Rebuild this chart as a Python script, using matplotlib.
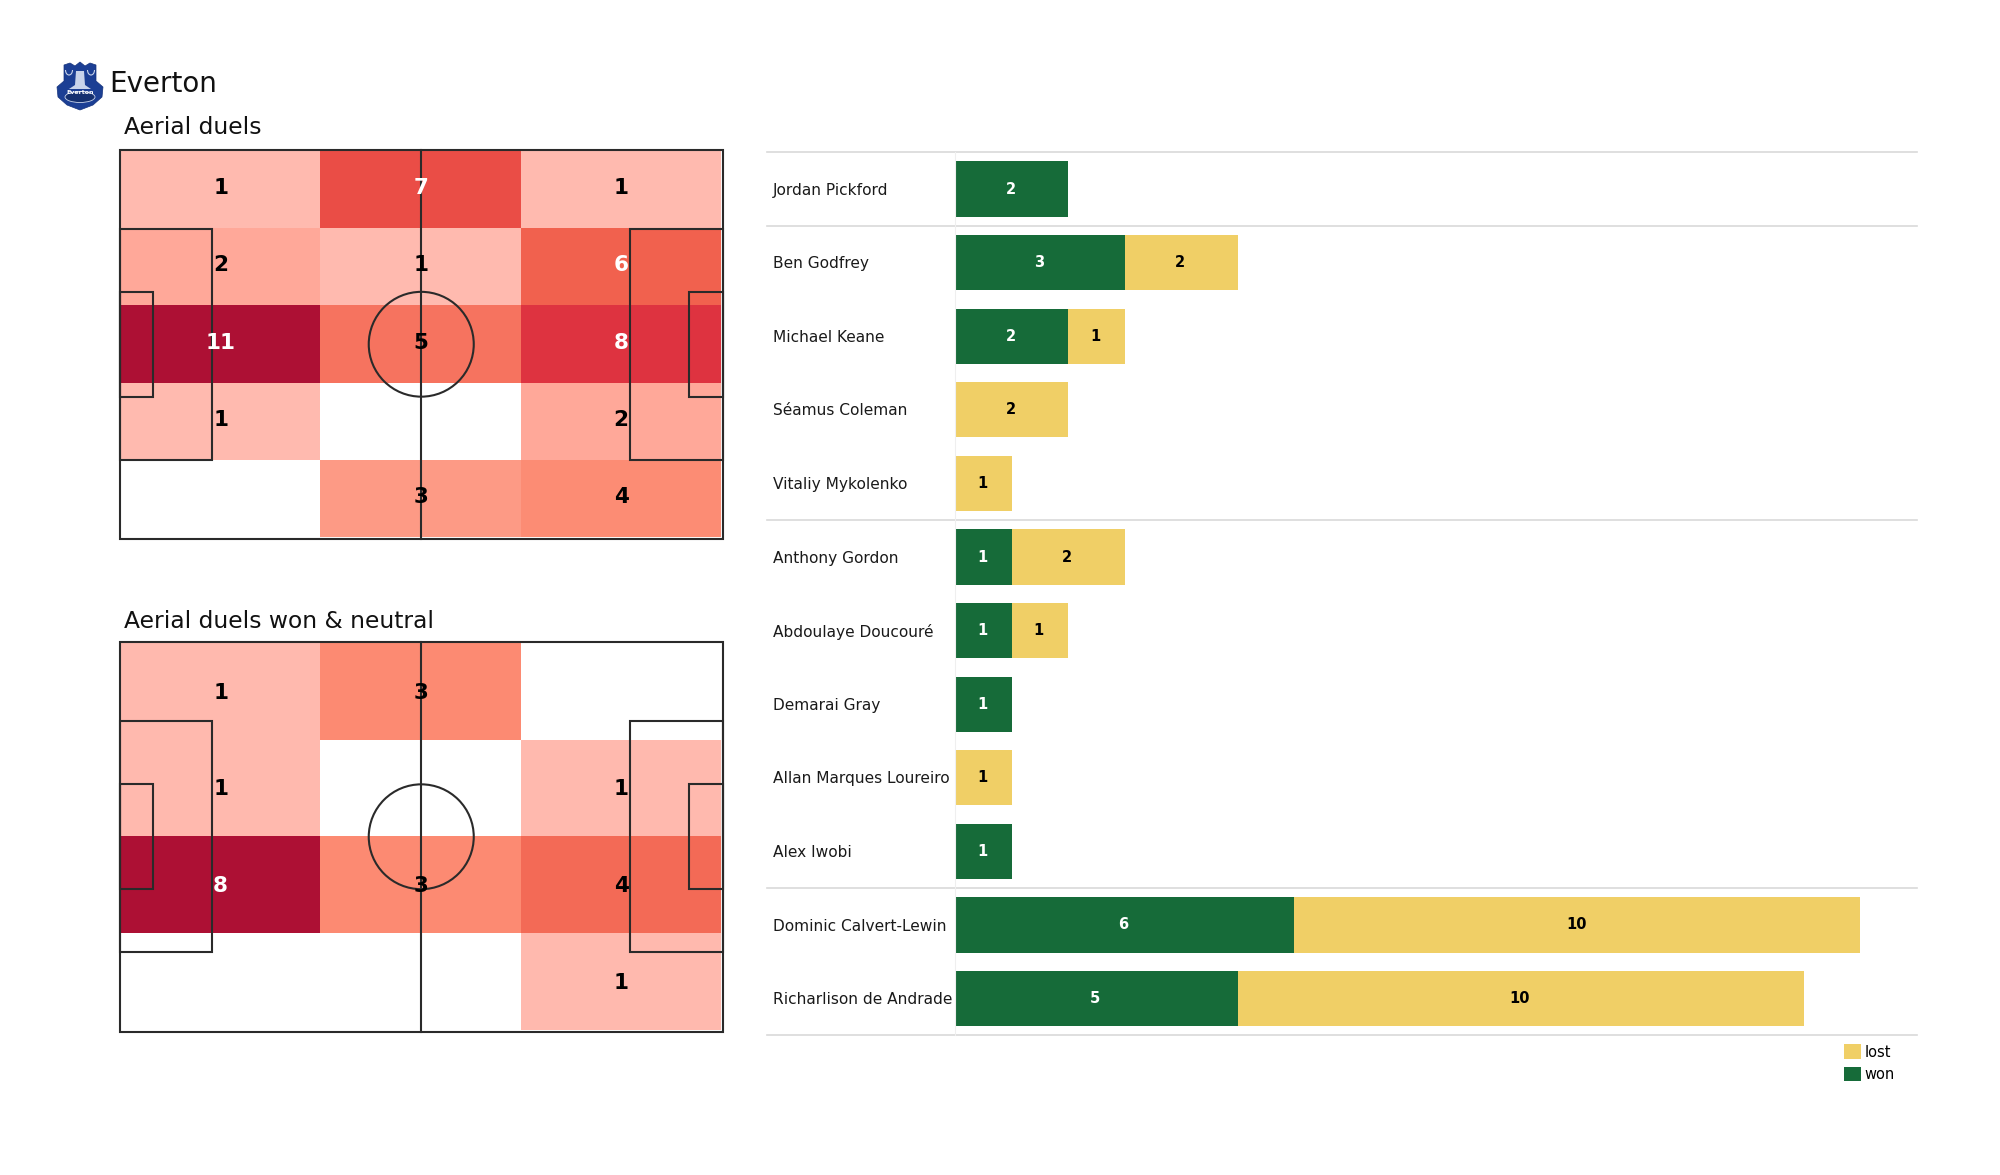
#!/usr/bin/env python3
import numpy as np
import matplotlib
matplotlib.use("Agg")
import matplotlib.pyplot as plt
from matplotlib.colors import LinearSegmentedColormap
from matplotlib.patches import Arc, Circle, Ellipse, Polygon, Rectangle

W, H = 2000, 1175

# heatmap counts, top row first
all_duels = [[1, 7, 1],
             [2, 1, 6],
             [11, 5, 8],
             [1, 0, 2],
             [0, 3, 4]]
won_duels = [[1, 3, 0],
             [1, 0, 1],
             [8, 3, 4],
             [0, 0, 1]]

players = ["Jordan Pickford", "Ben Godfrey", "Michael Keane", "Séamus Coleman",
           "Vitaliy Mykolenko", "Anthony Gordon", "Abdoulaye Doucouré", "Demarai Gray",
           "Allan Marques Loureiro", "Alex Iwobi", "Dominic Calvert-Lewin",
           "Richarlison de Andrade"]
won = [2, 3, 2, 0, 0, 1, 1, 1, 0, 1, 6, 5]
lost = [0, 2, 1, 2, 1, 2, 1, 0, 1, 0, 10, 10]
group_lines = [-0.5, 0.5, 4.5, 9.5, 11.5]

GREEN = "#166b39"
YELLOW = "#f0cf66"
LINE = "#2a2a2a"

heat = LinearSegmentedColormap.from_list("heat", [
    (0.0, "#ffbcb1"), (0.125, "#ffb9ae"), (0.18, "#ffa899"), (0.27, "#fd9a85"),
    (0.375, "#fc8a72"), (0.45, "#f67460"), (0.55, "#f1604d"), (0.64, "#ea4c46"),
    (0.73, "#de3340"), (1.0, "#ad1034")])
heat.set_bad("white")


def px_axes(x0, y0, x1, y1):
    return fig.add_axes([x0 / W, 1 - y1 / H, (x1 - x0) / W, (y1 - y0) / H])


def draw_pitch(ax):
    kw = dict(fill=False, ec=LINE, lw=1.5, zorder=3)
    ax.add_patch(Rectangle((0, 0), 105, 68, **kw))
    ax.plot([52.5, 52.5], [0, 68], color=LINE, lw=1.5, zorder=3)
    ax.add_patch(Rectangle((0, 13.84), 16.1, 40.32, **kw))
    ax.add_patch(Rectangle((88.9, 13.84), 16.1, 40.32, **kw))
    ax.add_patch(Rectangle((0, 24.84), 5.8, 18.32, **kw))
    ax.add_patch(Rectangle((99.2, 24.84), 5.8, 18.32, **kw))
    ax.add_patch(Circle((52.5, 34), 9.15, **kw))


def draw_heatmap(ax, counts, text_dy):
    counts = np.array(counts, dtype=float)
    rows, cols = counts.shape
    xs = np.linspace(0, 104.7, cols + 1)
    ys = np.linspace(0.3, 67.8, rows + 1)
    flipped = counts[::-1]
    ax.pcolormesh(xs, ys, np.ma.masked_equal(flipped, 0), cmap=heat,
                  vmin=0, vmax=counts.max(), zorder=1)
    for r in range(rows):
        for c in range(cols):
            v = flipped[r, c]
            if v == 0:
                continue
            ax.text((xs[c] + xs[c + 1]) / 2 + 0.1, (ys[r] + ys[r + 1]) / 2 + text_dy, str(int(v)),
                    ha="center", va="center", fontsize=15.5, fontweight="bold",
                    color="white" if v / counts.max() > 0.5 else "black", zorder=4)
    draw_pitch(ax)
    ax.set_xlim(0, 105)
    ax.set_ylim(0, 68)
    ax.axis("off")
    for art in ax.patches:
        art.set_clip_on(False)
    for art in ax.lines:
        art.set_clip_on(False)


fig = plt.figure(figsize=(W / 100, H / 100), dpi=100, facecolor="white")

draw_heatmap(px_axes(120, 149.5, 722.5, 539), all_duels, 0.23)
draw_heatmap(px_axes(120, 642, 722.5, 1031.5), won_duels, -0.23)

fig.text(109 / W, 1 - 84.5 / H, "Everton", fontsize=20, va="center", color="#111111")
fig.text(124 / W, 1 - 127 / H, "Aerial duels", fontsize=16.8, va="center", color="#111111")
fig.text(124 / W, 1 - 621 / H, "Aerial duels won & neutral", fontsize=16.8, va="center",
         color="#111111")

# crest
crest = px_axes(55, 61, 105, 111)
crest.set_xlim(0, 50)
crest.set_ylim(50, 0)
crest.axis("off")
crest.add_patch(Polygon([(9, 4), (15, 2), (20, 5), (25, 1), (30, 5), (35, 2), (41, 4),
                         (41, 20), (48, 26), (47, 36), (38, 44), (25, 49), (12, 44),
                         (3, 36), (2, 26), (9, 20)], fc="#1c3f94", ec="#16337c", lw=0.5))
crest.add_patch(Polygon([(21, 10), (29, 10), (30, 24), (36, 28), (14, 28), (20, 24)],
                        fc="#c9d4ea", ec="none"))
for cx in [14, 36]:
    crest.add_patch(Arc((cx, 9), 7, 10, theta1=0, theta2=180, ec="#c9d4ea", lw=0.8))
crest.add_patch(Ellipse((25, 36), 30, 11, fc="#15306f", ec="#c9d4ea", lw=0.6))
crest.text(25, 32, "Everton", fontsize=4.5, ha="center", va="center", color="white",
           fontweight="bold")

# bars
ax = px_axes(955, 152.3, 1916.7, 1035.3)
y = np.arange(len(players))
ax.barh(y, won, height=0.75, color=GREEN, label="won")
ax.barh(y, lost, height=0.75, left=won, color=YELLOW, label="lost")
for i in y:
    if won[i]:
        ax.text(won[i] / 2 - 0.02, i, str(won[i]), ha="center", va="center", color="white",
                fontsize=10.5, fontweight="bold")
    if lost[i]:
        ax.text(won[i] + lost[i] / 2 - 0.02, i, str(lost[i]), ha="center", va="center",
                color="black", fontsize=10.5, fontweight="bold")
    ax.text(-181.7 / 56.55, i + 0.015, players[i], ha="left", va="center", fontsize=11.05,
            color="#1a1a1a")
for g in group_lines:
    ax.plot([-188.3 / 56.55, 17], [g, g], color="#d9d9d9", lw=1.2, clip_on=False, zorder=0)
ax.set_xlim(0, 17)
ax.set_ylim(11.5, -0.5)
ax.set_xticks([])
ax.set_yticks([])
for side in ["top", "right", "bottom"]:
    ax.spines[side].set_visible(False)
ax.spines["left"].set_color("#efefef")
ax.spines["left"].set_linewidth(0.8)

handles, labels = ax.get_legend_handles_labels()
fig.legend(handles[::-1], labels[::-1], loc="upper left", bbox_to_anchor=(1839.5 / W, 1 - 1040 / H),
           frameon=False, fontsize=10.5, handlelength=1.16, handleheight=1.16, handletextpad=0.25,
           labelspacing=0.5, borderpad=0.3, borderaxespad=0)

fig.savefig("out.png", dpi=100, facecolor="white")
